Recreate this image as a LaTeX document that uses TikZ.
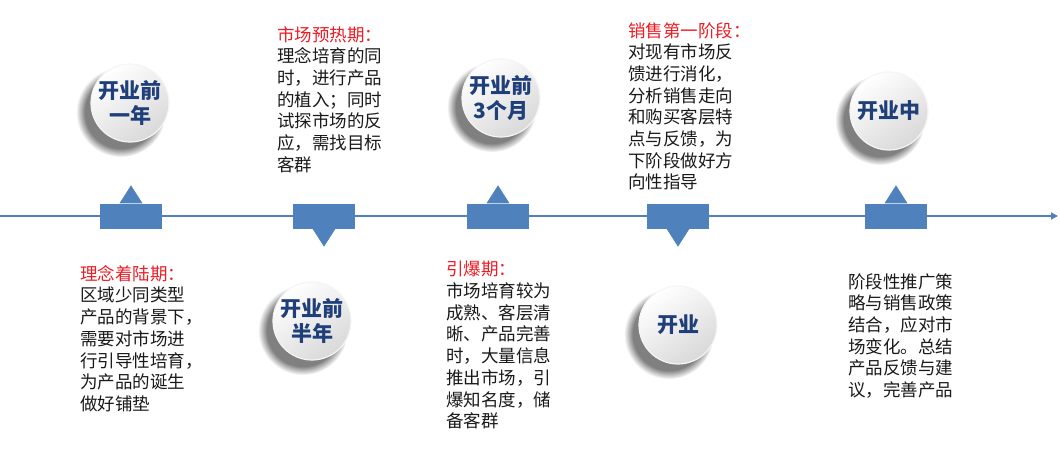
\documentclass[tikz,border=0pt]{standalone}
\usepackage{fontspec}
\newfontfamily\cjk{Noto Sans CJK SC}
\usetikzlibrary{arrows.meta, shadows, fadings, calc}
\definecolor{lineblue}{HTML}{4F81BD}
\definecolor{darkblue}{HTML}{1F3F7A}
\definecolor{headred}{HTML}{EE1C25}

\begin{document}
\begin{tikzpicture}[
  x=1pt, y=-1pt,
  font=\cjk,
  stage/.style={circle, minimum size=78pt, inner sep=0pt, align=center, text=darkblue,
    font=\cjk\bfseries\fontsize{21}{25}\selectfont,
    top color=white, bottom color=black!15, shading angle=35, draw=black!4, line width=1.2pt,
    general shadow={fill=black!50, shadow scale=1.15, shadow xshift=-8pt, shadow yshift=-8pt,
      path fading={circle with fuzzy edge 20 percent}}},
  note/.style={anchor=north west, align=left, inner sep=0pt, text=black!90,
    font=\cjk\fontsize{17.5}{21.7}\selectfont},
  markbox/.style={rectangle, fill=lineblue, minimum width=62pt, minimum height=25pt, inner sep=0pt},
  tip/.style={fill=lineblue},
  axis/.style={lineblue, line width=2.5pt, -{Triangle[length=7pt, width=7pt]}}
]
\useasboundingbox (0,0) rectangle (1060,450);

% time line
\coordinate (start) at (0,216);
\coordinate (end) at (1058,216);
\draw[axis] (start) -- (end);

% markers
\node[markbox] (m1) at (131,216) {};
\node[markbox] (m2) at (324,216) {};
\node[markbox] (m3) at (498,216) {};
\node[markbox] (m4) at (678,216) {};
\node[markbox] (m5) at (896,216) {};
\fill[tip] ($(m1.north)+(-11.5,0)$) -- ($(m1.north)+(0,-18)$) -- ($(m1.north)+(11.5,0)$) -- cycle;
\fill[tip] ($(m2.south)+(-11.5,0)$) -- ($(m2.south)+(0,18)$) -- ($(m2.south)+(11.5,0)$) -- cycle;
\fill[tip] ($(m3.north)+(-11.5,0)$) -- ($(m3.north)+(0,-18)$) -- ($(m3.north)+(11.5,0)$) -- cycle;
\fill[tip] ($(m4.south)+(-11.5,0)$) -- ($(m4.south)+(0,18)$) -- ($(m4.south)+(11.5,0)$) -- cycle;
\fill[tip] ($(m5.north)+(-11.5,0)$) -- ($(m5.north)+(0,-18)$) -- ($(m5.north)+(11.5,0)$) -- cycle;

% stages
\node[stage] (c1) at (130,103) {开业前\\一年};
\node[stage] (c2) at (312,321) {开业前\\半年};
\node[stage] (c3) at (501,98) {开业前\\3个月};
\node[stage] (c4) at (678,325) {开业};
\node[stage] (c5) at (889,111) {开业中};

% notes
\node[note] (t1) at (80,265) {{\color{headred}理念着陆期：}\\区域少同类型\\产品的背景下，\\需要对市场进\\行引导性培育，\\为产品的诞生\\做好铺垫};
\node[note] (t2) at (277,26) {{\color{headred}市场预热期：}\\理念培育的同\\时，进行产品\\的植入；同时\\试探市场的反\\应，需找目标\\客群};
\node[note] (t3) at (446,261) {{\color{headred}引爆期：}\\市场培育较为\\成熟、客层清\\晰、产品完善\\时，大量信息\\推出市场，引\\爆知名度，储\\备客群};
\node[note] (t4) at (628,22) {{\color{headred}销售第一阶段：}\\对现有市场反\\馈进行消化，\\分析销售走向\\和购买客层特\\点与反馈，为\\下阶段做好方\\向性指导};
\node[note] (t5) at (848,273) {阶段性推广策\\略与销售政策\\结合，应对市\\场变化。总结\\产品反馈与建\\议，完善产品};
\end{tikzpicture}
\end{document}
